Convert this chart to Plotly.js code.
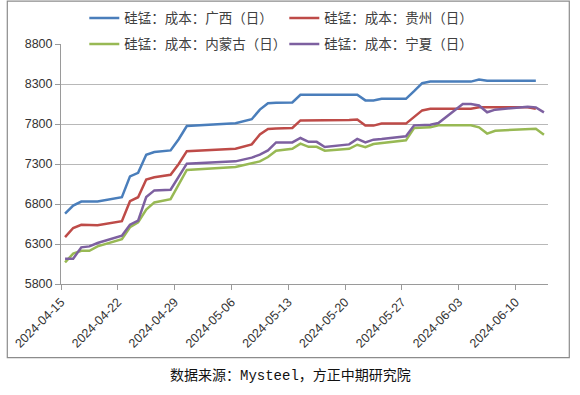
<!DOCTYPE html>
<html><head><meta charset="utf-8">
<script src="https://cdn.plot.ly/plotly-3.0.1.min.js"></script>
<style>html,body{margin:0;padding:0;background:#fff}</style>
</head><body>
<div id="chart" style="width:580px;height:395px"></div>
<script>
// ---- data ----
const dates = ['2024-04-15','2024-04-16','2024-04-17','2024-04-18','2024-04-19',
  '2024-04-22','2024-04-23','2024-04-24','2024-04-25','2024-04-26','2024-04-28',
  '2024-04-29','2024-04-30','2024-05-06','2024-05-07','2024-05-08','2024-05-09',
  '2024-05-10','2024-05-11','2024-05-13','2024-05-14','2024-05-15','2024-05-16',
  '2024-05-17','2024-05-20','2024-05-21','2024-05-22','2024-05-23','2024-05-24',
  '2024-05-27','2024-05-28','2024-05-29','2024-05-30','2024-05-31','2024-06-03',
  '2024-06-04','2024-06-05','2024-06-06','2024-06-07','2024-06-11','2024-06-12',
  '2024-06-13'];
const guangxi = [6680,6780,6830,6830,6830,6885,7145,7190,7415,7450,7470,7610,7775,
  7810,7835,7860,7980,8060,8065,8070,8165,8165,8165,8165,8165,8165,8095,8095,8115,
  8115,8210,8310,8330,8330,8330,8330,8355,8340,8340,8340,8340,null];
const guizhou = [6385,6500,6540,6540,6535,6585,6835,6885,7105,7135,7165,7300,7460,
  7490,7515,7545,7670,7737,7745,7750,7845,7845,7845,7845,7850,7855,7780,7780,7805,
  7805,7890,7970,7990,7990,7990,7990,8008,8008,8008,8008,7990,null];
const neimenggu = [6070,6180,6215,6215,6270,6360,6510,6570,6730,6820,6860,7040,7225,
  7262,7285,7308,7333,7387,7466,7490,7554,7515,7515,7466,7490,7541,7510,7550,7562,
  7596,7750,7755,7758,7783,7783,7783,7758,7680,7716,7737,7741,7666];
const ningxia = [6116,6116,6258,6270,6312,6404,6541,6591,6887,6970,6979,7140,7304,
  7333,7355,7380,7416,7470,7570,7570,7625,7577,7577,7512,7545,7614,7570,7604,7612,
  7646,7783,7787,7791,7812,8050,8050,8031,7947,7979,8016,8008,7945];
const seriesNames = ['硅锰：成本：广西（日）','硅锰：成本：贵州（日）',
  '硅锰：成本：内蒙古（日）','硅锰：成本：宁夏（日）'];
const seriesColors = ['#4A7EBB','#BE4B48','#98B954','#7D60A0'];
const xStart = '2024-04-15', xEnd = '2024-06-14';
const yTicks = [5800,6300,6800,7300,7800,8300,8800];
const caption = '数据来源：Mysteel，方正中期研究院';

// ---- layout geometry (pixels) ----
const W = 580, H = 395;
const L = 60.7, R = 547.7, T = 44.3, B = 284.3;
const px = x => (x - L) / (R - L);
const py = y => (B - y) / (B - T);

// Excel date axis: each point sits in the middle of its day
const xs = dates.map(d => d + ' 12:00');

const traceFor = (vals, i, legend) => ({
  x: xs, y: vals, type: 'scatter', mode: 'lines', name: seriesNames[i],
  line: {color: seriesColors[i], width: 2.5}, connectgaps: false,
  legend: legend, hoverinfo: 'skip'
});
const data = [
  traceFor(guangxi, 0, 'legend'),
  traceFor(guizhou, 1, 'legend'),
  traceFor(neimenggu, 2, 'legend2'),
  traceFor(ningxia, 3, 'legend2')
];

const legendBase = {
  orientation: 'h', xanchor: 'left', yanchor: 'middle',
  bgcolor: 'rgba(0,0,0,0)', borderwidth: 0,
  font: {family: 'Noto Sans CJK SC, sans-serif', size: 13.5, color: '#404040'},
  entrywidth: 155, entrywidthmode: 'pixels', itemwidth: 30
};

const layout = {
  width: W, height: H,
  margin: {l: L, r: W - R, t: T, b: H - B, pad: 0, autoexpand: false},
  paper_bgcolor: '#fff', plot_bgcolor: 'rgba(0,0,0,0)',
  showlegend: true,
  legend: Object.assign({}, legendBase, {x: px(84), y: py(18.5)}),
  legend2: Object.assign({}, legendBase, {x: px(84), y: py(44.5)}),
  xaxis: {
    type: 'date', range: [xStart, xEnd], fixedrange: true,
    tick0: xStart, dtick: 7 * 86400000, tickformat: '%Y-%m-%d',
    tickangle: -45, ticks: 'outside', ticklen: 5, tickcolor: '#9a9a9a',
    showline: true, linecolor: '#9a9a9a', linewidth: 1,
    showgrid: false, zeroline: false, automargin: false,
    tickfont: {family: 'Liberation Sans, Arial, sans-serif', size: 12.5, color: '#333'}
  },
  yaxis: {
    range: [5800, 8800], fixedrange: true, automargin: false,
    tickvals: yTicks, ticktext: yTicks.map(String),
    ticks: 'outside', ticklen: 5, tickcolor: '#9a9a9a',
    showline: true, linecolor: '#9a9a9a', linewidth: 1,
    showgrid: true, gridcolor: '#b8b8b8', gridwidth: 1, zeroline: false,
    tickfont: {family: 'Liberation Sans, Arial, sans-serif', size: 12.5, color: '#333'}
  },
  shapes: [{
    type: 'rect', xref: 'paper', yref: 'paper', layer: 'below',
    x0: px(7), x1: px(569), y0: py(358), y1: py(1.5),
    line: {color: '#8c8c8c', width: 1.2}, fillcolor: 'rgba(0,0,0,0)'
  }],
  annotations: [{
    xref: 'paper', yref: 'paper', x: px(290), y: py(376),
    xanchor: 'center', yanchor: 'middle', showarrow: false,
    text: caption,
    font: {family: 'Liberation Mono, Noto Sans CJK SC, monospace', size: 14, color: '#111'}
  }]
};

Plotly.newPlot('chart', data, layout, {staticPlot: true, displayModeBar: false});
</script>
</body></html>
